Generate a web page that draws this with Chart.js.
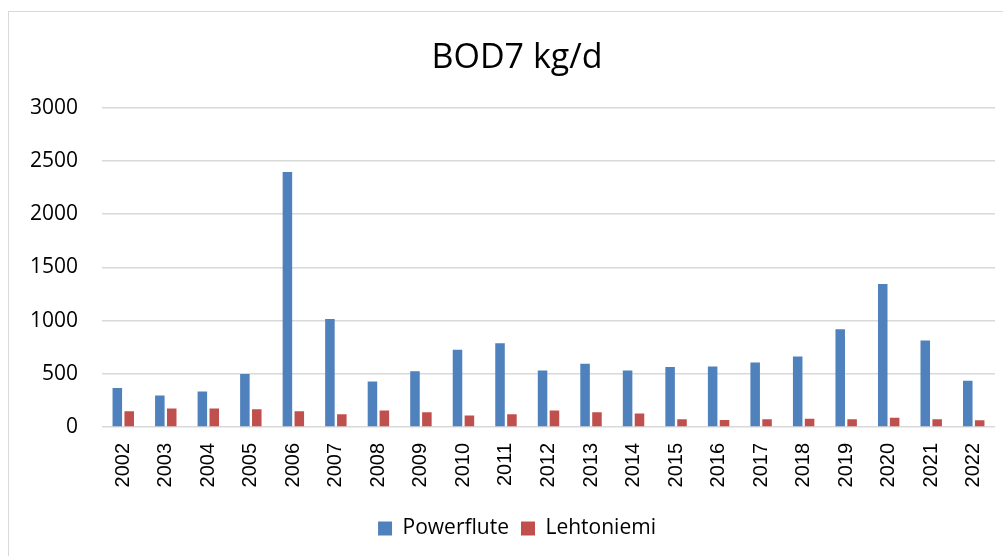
<!DOCTYPE html>
<html>
<head>
<meta charset="utf-8">
<script src="https://cdn.jsdelivr.net/npm/chart.js@4/dist/chart.umd.min.js"></script>
<style>
  html, body { margin: 0; padding: 0; background: #fff; overflow: hidden; }
  #frame {
    position: absolute; left: 8px; top: 11px;
    width: 1016px; height: 560px;
    border: 1.5px solid #d9d9d9;
    box-sizing: border-box;
  }
  #chart { position: absolute; left: 0; top: 0; }
</style>
</head>
<body>
<div id="frame"><canvas id="chart" width="1016" height="547"></canvas></div>
<script>
(function() {
  'use strict';

  var years = ['2002', '2003', '2004', '2005', '2006', '2007', '2008', '2009', '2010', '2011', '2012',
    '2013', '2014', '2015', '2016', '2017', '2018', '2019', '2020', '2021', '2022'];
  var powerflute = [366, 297, 334, 497, 2397, 1016, 428, 525, 725, 788, 531,
    594, 531, 563, 569, 606, 663, 919, 1344, 813, 434];
  var lehtoniemi = [147, 175, 175, 166, 147, 119, 156, 138, 109, 119, 156,
    138, 128, 72, 66, 72, 78, 72, 88, 72, 63];
  var yTicks = [0, 500, 1000, 1500, 2000, 2500, 3000];

  var ctx = document.getElementById('chart').getContext('2d');
  new Chart(ctx, {
    type: 'bar',
    data: {
      labels: years,
      datasets: [{
        label: 'Powerflute',
        data: powerflute,
        backgroundColor: '#4F81BD',
        categoryPercentage: 0.56,
        barPercentage: 0.8
      }, {
        label: 'Lehtoniemi',
        data: lehtoniemi,
        backgroundColor: '#C0504D',
        categoryPercentage: 0.56,
        barPercentage: 0.8
      }]
    },
    options: {
      responsive: false,
      animation: false,
      layout: { padding: { left: 0, right: 0, top: 0, bottom: 10 } },
      plugins: {
        tooltip: { enabled: false },
        title: {
          display: true,
          text: 'BOD7 kg/d',
          color: '#000',
          font: { family: 'Open Sans', size: 34, weight: 'normal', lineHeight: 1.2 },
          padding: { top: 26, bottom: 29 }
        },
        legend: {
          position: 'bottom',
          labels: {
            color: '#000',
            font: { family: 'Open Sans', size: 21 },
            boxWidth: 14,
            boxHeight: 14,
            padding: 12
          }
        }
      },
      scales: {
        x: {
          grid: { display: false, drawTicks: false },
          border: { display: false },
          ticks: {
            color: '#000',
            font: { family: 'Liberation Sans', size: 20 },
            minRotation: 90,
            maxRotation: 90,
            padding: 16,
            autoSkip: false
          },
          afterFit: function(scale) { scale.height = 79; }
        },
        y: {
          min: 0,
          max: 3000,
          afterBuildTicks: function(scale) {
            scale.ticks = yTicks.map(function(v) { return { value: v }; });
          },
          grid: { color: '#d9d9d9', lineWidth: 1.5, drawTicks: false },
          border: { display: false },
          ticks: {
            color: '#000',
            font: { family: 'Open Sans', size: 21 },
            padding: 24,
            callback: function(value) { return String(value); }
          },
          afterFit: function(scale) { scale.width = 93; }
        },
        // empty right-hand box, keeps the plot off the right edge
        yRight: {
          position: 'right',
          min: 0,
          max: 3000,
          grid: { display: false, drawTicks: false },
          border: { display: false },
          ticks: { display: false },
          afterFit: function(scale) { scale.width = 30; }
        }
      }
    }
  });
})();
</script>
</body>
</html>
